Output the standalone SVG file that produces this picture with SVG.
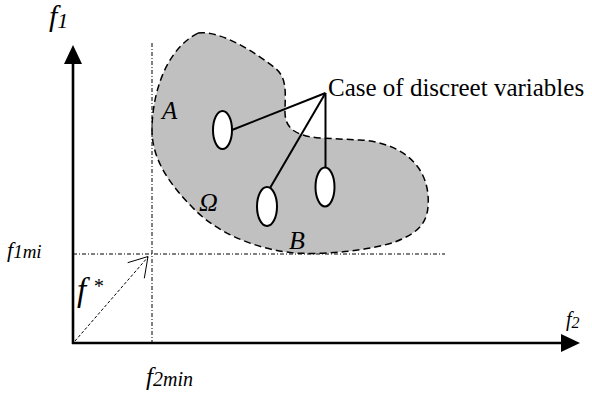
<svg xmlns="http://www.w3.org/2000/svg" width="592" height="395" viewBox="0 0 592 395">
<style>
.it{font-family:"Liberation Serif","Times New Roman",serif;font-style:italic;fill:#000}
.rm{font-family:"Liberation Serif","Times New Roman",serif;fill:#000}
.axis{stroke:#000;stroke-width:2.6;fill:none}
.guide{stroke:#000;stroke-width:1;fill:none;stroke-dasharray:4 2 1 2}
.lead{stroke:#000;stroke-width:2;fill:none}
.pt{fill:#fff;stroke:#000;stroke-width:2}
</style>
<rect width="592" height="395" fill="#fff"/>
<g id="region">
<path d="M198,33 C220,30 255,52 275,68 C288,78 285,95 285,112 C285,128 295,136 320,138 L360,140 C395,142 425,160 428,195 C430,222 420,232 395,242 C370,250 330,255 295,253 C260,250 220,235 195,210 C170,185 152,160 152,130 C152,95 165,50 198,33 Z" fill="#c0c0c0" stroke="#000" stroke-width="1.5" stroke-dasharray="7 4"/>
<text class="it" x="162" y="119" font-size="25">A</text>
<text class="it" x="199" y="211" font-size="26">Ω</text>
<text class="it" x="289" y="249" font-size="26">B</text>
</g>
<g id="guides">
<line class="guide" x1="152" y1="43" x2="152" y2="343"/>
<line class="guide" x1="73" y1="254" x2="445" y2="254"/>
</g>
<g id="axes">
<line class="axis" x1="73" y1="344" x2="73" y2="60"/>
<polygon points="73,45 64,64 82,64" fill="#000"/>
<line class="axis" x1="72" y1="343" x2="565" y2="343"/>
<polygon points="580,343 561,334 561,352" fill="#000"/>
</g>
<g id="connectors">
<line class="lead" x1="325.5" y1="93" x2="232" y2="130"/>
<line class="lead" x1="325.5" y1="93" x2="270" y2="188"/>
<line class="lead" x1="325.5" y1="93" x2="325.5" y2="168"/>
<line x1="75" y1="341" x2="148" y2="257" stroke="#000" stroke-width="1" stroke-dasharray="3 2"/>
<polyline points="127.7,262.7 148,256.5 144.3,278.3" fill="none" stroke="#000" stroke-width="1"/>
</g>
<g id="p1"><ellipse class="pt" cx="222.5" cy="130" rx="9.5" ry="19"/></g>
<g id="p2"><ellipse class="pt" cx="267" cy="206.5" rx="10" ry="19.5"/></g>
<g id="p3"><ellipse class="pt" cx="325" cy="187" rx="9.5" ry="19.5"/></g>
<g id="caption"><text class="rm" x="328" y="96" font-size="25">Case of discreet variables</text></g>
<g id="labels">
<text class="it" x="49" y="26" font-size="30">f<tspan font-size="22" dy="2">1</tspan></text>
<text class="it" x="566" y="326" font-size="20">f<tspan font-size="16" dy="2">2</tspan></text>
<text class="it" x="7" y="257" font-size="22">f<tspan font-size="19" dy="1">1mi</tspan></text>
<text class="it" x="146" y="385" font-size="25">f<tspan font-size="20" dy="1">2min</tspan></text>
<text class="it" x="77" y="301" font-size="33">f</text>
<text class="it" x="93" y="293" font-size="20">*</text>
</g>
</svg>
